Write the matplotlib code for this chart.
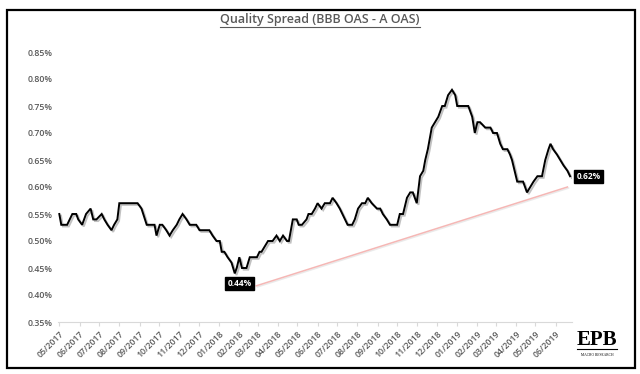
import matplotlib
matplotlib.use("Agg")
import matplotlib.pyplot as plt
import matplotlib.patheffects as pe
from matplotlib.patches import Rectangle
from matplotlib.lines import Line2D
import pandas as pd

# ---- data ----
dates_2017 = ["2017-05-01","2017-05-04","2017-05-09","2017-05-13","2017-05-21","2017-05-27","2017-05-30",
              "2017-06-05","2017-06-11","2017-06-18","2017-06-22","2017-06-27","2017-07-05","2017-07-09",
              "2017-07-14","2017-07-20","2017-07-24","2017-07-29","2017-08-01","2017-08-04","2017-08-29",
              "2017-09-04","2017-09-12","2017-09-19","2017-09-24","2017-09-27","2017-10-02","2017-10-06",
              "2017-10-12","2017-10-17","2017-10-22","2017-10-28","2017-11-01","2017-11-06","2017-11-12",
              "2017-11-17","2017-11-21","2017-11-27","2017-12-02","2017-12-07","2017-12-13","2017-12-17",
              "2017-12-22","2017-12-28"]
vals_2017 = [0.55,0.53,0.53,0.53,0.55,0.55,0.54,
             0.53,0.55,0.56,0.54,0.54,0.55,0.54,
             0.53,0.52,0.53,0.54,0.57,0.57,0.57,
             0.56,0.53,0.53,0.53,0.51,0.53,0.53,
             0.52,0.51,0.52,0.53,0.54,0.55,0.54,
             0.53,0.53,0.53,0.52,0.52,0.52,0.52,
             0.51,0.50]
dates_2018 = ["2018-01-02","2018-01-05","2018-01-09","2018-01-14","2018-01-20","2018-01-25","2018-01-28",
              "2018-02-01","2018-02-05","2018-02-09","2018-02-12","2018-02-17","2018-02-21","2018-02-28",
              "2018-03-04","2018-03-07","2018-03-12","2018-03-17","2018-03-24","2018-03-30","2018-04-04",
              "2018-04-09","2018-04-15","2018-04-18","2018-04-21","2018-04-24","2018-04-30","2018-05-03",
              "2018-05-08","2018-05-15","2018-05-18","2018-05-23","2018-05-28","2018-06-01","2018-06-07",
              "2018-06-12","2018-06-20","2018-06-24","2018-06-30","2018-07-05","2018-07-13","2018-07-17",
              "2018-07-24","2018-07-28","2018-08-02","2018-08-08","2018-08-13","2018-08-17","2018-08-23",
              "2018-08-31","2018-09-05","2018-09-09","2018-09-15","2018-09-20","2018-09-25","2018-10-01",
              "2018-10-05","2018-10-10","2018-10-16","2018-10-21","2018-10-25","2018-10-31","2018-11-05",
              "2018-11-10","2018-11-13","2018-11-17","2018-11-20","2018-11-23","2018-11-28","2018-12-03",
              "2018-12-09","2018-12-13","2018-12-18","2018-12-24","2018-12-29"]
vals_2018 = [0.50,0.48,0.48,0.47,0.46,0.44,0.45,
             0.47,0.45,0.45,0.45,0.47,0.47,0.47,
             0.48,0.48,0.49,0.50,0.50,0.51,0.50,
             0.51,0.50,0.50,0.52,0.54,0.54,0.53,
             0.53,0.54,0.55,0.55,0.56,0.57,0.56,
             0.57,0.57,0.58,0.57,0.56,0.54,0.53,
             0.53,0.54,0.56,0.57,0.57,0.58,0.57,
             0.56,0.56,0.55,0.54,0.53,0.53,0.53,
             0.55,0.55,0.58,0.59,0.59,0.57,0.62,
             0.63,0.65,0.67,0.69,0.71,0.72,0.73,
             0.75,0.75,0.77,0.78,0.77]
dates_2019 = ["2019-01-01","2019-01-05","2019-01-10","2019-01-18","2019-01-24","2019-01-28","2019-02-01",
              "2019-02-05","2019-02-13","2019-02-21","2019-02-25","2019-03-03","2019-03-08","2019-03-12",
              "2019-03-19","2019-03-23","2019-03-26","2019-03-28","2019-04-03","2019-04-08","2019-04-12",
              "2019-04-18","2019-04-23","2019-04-28","2019-05-04","2019-05-11","2019-05-16","2019-05-21",
              "2019-05-24","2019-05-28","2019-06-03","2019-06-08","2019-06-13","2019-06-19","2019-06-23"]
vals_2019 = [0.75,0.75,0.75,0.75,0.73,0.70,0.72,
             0.72,0.71,0.71,0.70,0.70,0.68,0.67,
             0.67,0.66,0.65,0.64,0.61,0.61,0.61,
             0.59,0.60,0.61,0.62,0.62,0.65,0.67,
             0.68,0.67,0.66,0.65,0.64,0.63,0.62]

trend_dates = ["2018-02-27", "2019-06-19"]
trend_vals = [0.417, 0.600]

min_label = "0.44%"
last_label = "0.62%"
title = "Quality Spread (BBB OAS - A OAS)"
yticks = [0.35, 0.40, 0.45, 0.50, 0.55, 0.60, 0.65, 0.70, 0.75, 0.80, 0.85]
tick_months = pd.date_range("2017-05-01", "2019-06-01", freq="MS")

dates = pd.to_datetime(dates_2017 + dates_2018 + dates_2019)
spread = vals_2017 + vals_2018 + vals_2019

# ---- figure ----
W, H = 640, 374
fig = plt.figure(figsize=(W / 100, H / 100), dpi=100)
fig.patch.set_facecolor("white")
font = "Open Sans"
gray = "#595959"

ax = fig.add_axes([58 / W, (H - 322) / H, (572 - 58) / W, (322 - 52) / H])
ax.plot(dates, spread, color="black", lw=1.4, solid_joinstyle="miter",
        path_effects=[pe.SimpleLineShadow(offset=(1.2, -1.2), shadow_color="#999999", alpha=0.6), pe.Normal()])
ax.plot(pd.to_datetime(trend_dates), trend_vals, color="#f5b7b5", lw=1.1,
        path_effects=[pe.SimpleLineShadow(offset=(0.8, -0.8), shadow_color="#dddddd", alpha=0.6), pe.Normal()])

ax.set_ylim(0.35, 0.85)
ax.set_xlim(dates[0] - pd.Timedelta(days=2), dates[-1] + pd.Timedelta(days=3))
ax.set_yticks(yticks)
ax.set_yticklabels([f"{v:.2f}%" for v in yticks], fontsize=6.3, color=gray, family=font, fontweight="semibold")
ax.set_xticks(tick_months)
ax.set_xticklabels([d.strftime("%m/%Y") for d in tick_months], rotation=45, ha="right",
                   rotation_mode="anchor", fontsize=6.3, color=gray, family=font, fontweight="semibold")
ax.tick_params(axis="y", length=0, pad=4)
ax.tick_params(axis="x", length=3, color="#d9d9d9", pad=2)
for s in ["top", "right", "left"]:
    ax.spines[s].set_visible(False)
ax.spines["bottom"].set_color("#d9d9d9")
ax.spines["bottom"].set_linewidth(0.8)

# labels
imin = spread.index(min(spread))
ax.annotate(min_label, xy=(dates[imin], spread[imin]), xytext=(3.5, -7), textcoords="offset points",
            ha="center", va="center", fontsize=6, color="white", fontweight="bold", family=font,
            bbox=dict(boxstyle="square,pad=0.25", fc="black", ec="black"))
ax.annotate(last_label, xy=(dates[-1], spread[-1]), xytext=(4.5, 0), textcoords="offset points",
            ha="left", va="center", fontsize=6, color="white", fontweight="bold", family=font,
            bbox=dict(boxstyle="square,pad=0.25", fc="black", ec="black"), annotation_clip=False)

# title with underline
t = fig.text(0.5, (H - 20) / H, title, ha="center", va="center", fontsize=9, color=gray,
             family=font, fontweight="semibold")
fig.canvas.draw()
bb = t.get_window_extent(fig.canvas.get_renderer())
fig.add_artist(Line2D([bb.x0 / W, bb.x1 / W], [(bb.y0 - 0.5) / H] * 2, color=gray, lw=0.8))

# logo
fig.text(597 / W, (H - 340) / H, "EPB", ha="center", va="center", fontsize=15,
         family="Liberation Serif", fontweight="bold", color="black")
fig.add_artist(Line2D([577 / W, 617 / W], [(H - 349) / H] * 2, color="black", lw=0.8))
fig.text(597 / W, (H - 355) / H, "MACRO RESEARCH", ha="center", va="center", fontsize=2.6,
         family="Liberation Serif", color="black")

# frame
fig.add_artist(Rectangle((7 / W, (H - 368) / H), (635 - 7) / W, (368 - 10) / H,
                         fill=False, ec="black", lw=1.6, transform=fig.transFigure))

fig.savefig("out.png", dpi=100)
